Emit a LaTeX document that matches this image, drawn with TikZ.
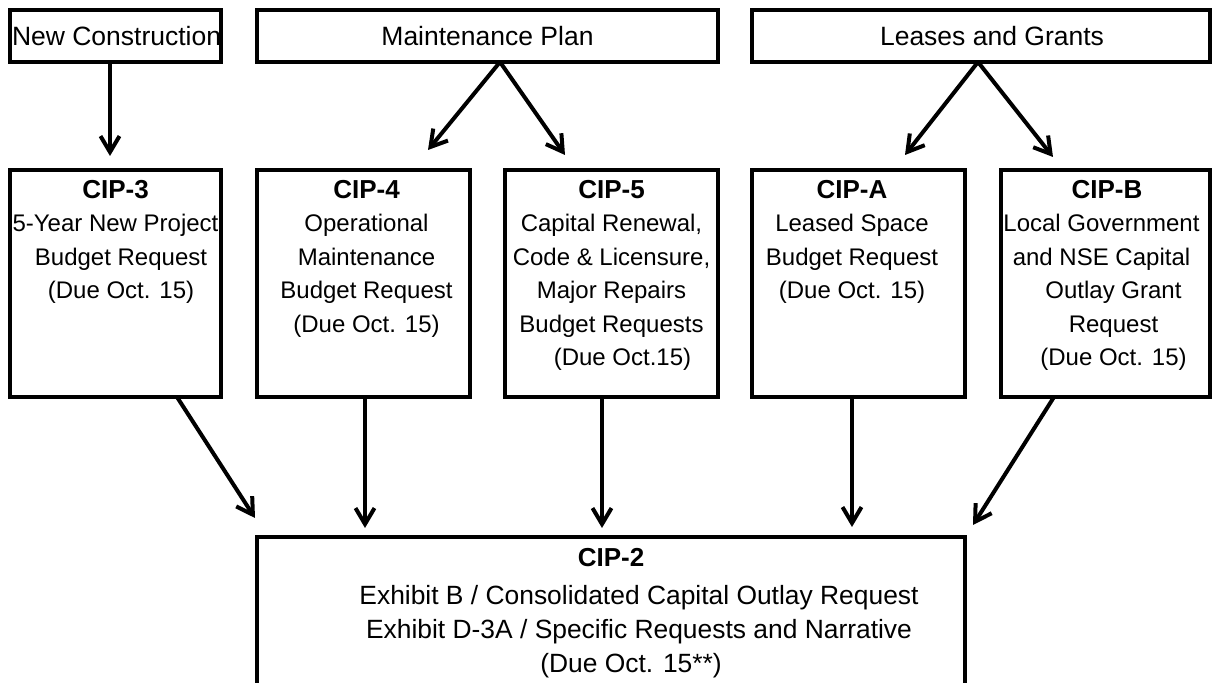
\documentclass[tikz,border=0pt]{standalone}
\usepackage{fontspec}
\setmainfont{Liberation Sans}
\usepackage{tikz}
\usetikzlibrary{positioning}
\usetikzlibrary{arrows.meta}
\tikzstyle{box} = [draw, rectangle, line width=2pt, inner sep=1pt, outer sep=0pt,
anchor=north west]
\tikzstyle{topbox} = [box, minimum height=26pt, font=\fontsize{13.25}{17}\selectfont]
\tikzstyle{cipbox} = [box, minimum width=106.5pt, minimum height=113.5pt]
\tikzstyle{ciptext} = [align=center, inner sep=0pt, outer sep=0pt,
font=\fontsize{12}{16.75}\selectfont]
\tikzstyle{line} = [draw, line width=2pt, -{Straight Barb[length=8pt,width=9.5pt]}]
\newcommand{\ciptitle}[1]{\strut{\fontsize{13}{16.75}\selectfont\bfseries #1}}

\begin{document}
\begin{tikzpicture}[x=0.5pt, y=-0.5pt]
  \useasboundingbox (0,0) rectangle (1212,683);
  \clip (0,0) rectangle (1212,683);
  %% Sources
  \node [topbox, minimum width=105.5pt] (nc) at (10,10) {\makebox[103.5pt][l]{New Construction}};
  \node [topbox, minimum width=230.5pt] (mp) at (257,10) {Maintenance Plan};
  \node [topbox, minimum width=229pt] (lg) at (752,10) {\hspace*{11pt}Leases and Grants};
  %% Budget requests
  \node [cipbox, minimum width=105.5pt] (cip3) at (10,170) {};
  \node [cipbox] (cip4) at (257,170) {};
  \node [cipbox] (cip5) at (505,170) {};
  \node [cipbox] (cipa) at (752,170) {};
  \node [cipbox, minimum width=104.5pt] (cipb) at (1001,170) {};
  \node [box, minimum width=354pt, minimum height=95pt] (cip2) at (257,537) {};
  \node [ciptext, below=2.5pt of cip3.north] (cip3text)
    {\ciptitle{CIP-3}\\5-Year New Project\\\hspace*{5.5pt}Budget Request\\\hspace*{5.5pt}(Due Oct. 15)};
  \node [ciptext, below=2.5pt of cip4.north, xshift=1.5pt] (cip4text)
    {\ciptitle{CIP-4}\\Operational\\Maintenance\\Budget Request\\(Due Oct. 15)};
  \node [ciptext, below=2.5pt of cip5.north] (cip5text)
    {\ciptitle{CIP-5}\\Capital Renewal,\\Code \& Licensure,\\Major Repairs\\Budget Requests\\\hspace*{11pt}(Due Oct.15)};
  \node [ciptext, below=2.5pt of cipa.north, xshift=-3.25pt] (cipatext)
    {\ciptitle{CIP-A}\\Leased Space\\Budget Request\\(Due Oct. 15)};
  \node [ciptext, below=2.5pt of cipb.north, xshift=-2pt] (cipbtext)
    {\hspace*{5.5pt}\ciptitle{CIP-B}\\Local Government\\and NSE Capital\\\hspace*{12pt}Outlay Grant\\\hspace*{12pt}Request\\\hspace*{12pt}(Due Oct. 15)};
  \node [ciptext, font=\fontsize{13.2}{17}\selectfont, below=3pt of cip2.north, xshift=14pt] (cip2text)
    {\hspace*{-28pt}\ciptitle{CIP-2}\\[2pt]Exhibit B / Consolidated Capital Outlay Request\\Exhibit D-3A / Specific Requests and Narrative\\\hspace*{-8pt}(Due Oct. 15**)};
  %% Flows
  \path [line, shorten >=7pt] ([xshift=-2.75pt]nc.south) -- ([xshift=-2.75pt]cip3.north);
  \path [line] ([xshift=6.25pt]mp.south) -- ([xshift=32.25pt, yshift=10pt]cip4.north);
  \path [line] ([xshift=6.25pt]mp.south) -- ([xshift=-23.25pt, yshift=7.5pt]cip5.north);
  \path [line] ([xshift=-1.5pt]lg.south) -- ([xshift=23.25pt, yshift=7.5pt]cipa.north);
  \path [line] ([xshift=-1.5pt]lg.south) -- ([xshift=-26.25pt, yshift=6.5pt]cipb.north);
  \path [line] ([xshift=30.75pt]cip3.south) -- ([xshift=-1pt, yshift=9.5pt]cip2.north west);
  \path [line] ([xshift=0.75pt]cip4.south) -- ([xshift=54pt, yshift=4.5pt]cip2.north west);
  \path [line] ([xshift=-4.75pt]cip5.south) -- ([xshift=172.5pt, yshift=4.5pt]cip2.north west);
  \path [line] ([xshift=-3.25pt, yshift=1pt]cipa.south) -- ([xshift=297.5pt, yshift=5pt]cip2.north west);
  \path [line] ([xshift=-25.75pt]cipb.south) -- ([xshift=4pt, yshift=6pt]cip2.north east);
\end{tikzpicture}
\end{document}
